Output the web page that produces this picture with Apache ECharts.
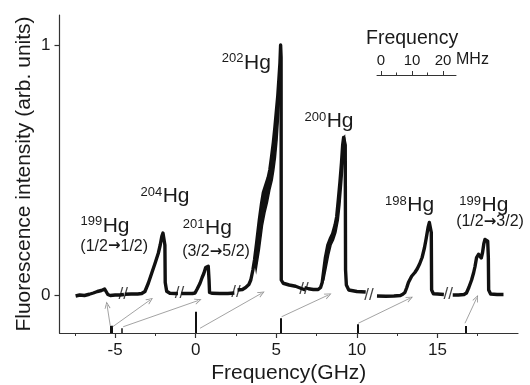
<!DOCTYPE html>
<html><head><meta charset="utf-8">
<script src="https://cdn.jsdelivr.net/npm/echarts@6/dist/echarts.min.js"></script>
<style>html,body{margin:0;padding:0;background:#fff}#c{width:530px;height:385px}</style>
</head><body><div id="c"></div>
<script>
// ---- data (frequency in GHz, fluorescence intensity in arb. units) ----
const seg199a = [[-7.45,-0.004],[-7.2,0.0],[-6.9,-0.002],[-6.6,0.003],[-6.35,0.008],[-6.1,0.014],[-5.85,0.018],[-5.65,0.024],[-5.55,0.02],[-5.45,0.002],[-5.3,-0.002],[-5.0,0.0],[-4.7,0.0],[-4.45,0.002]];
const seg204 = [[-4.4,0.003],[-4.0,0.004],[-3.6,0.004],[-3.35,0.006],[-3.15,0.014],[-2.94,0.047],[-2.73,0.087],[-2.52,0.127],[-2.32,0.167],[-2.2,0.2],[-2.1,0.235],[-2.03,0.248],[-1.96,0.24],[-1.91,0.2],[-1.89,0.05],[-1.8,0.015],[-1.6,0.007],[-1.3,0.006],[-1.1,0.006]];
const seg201 = [[-0.9,0.006],[-0.5,0.006],[-0.2,0.006],[-0.04,0.008],[0.1,0.025],[0.27,0.047],[0.4,0.07],[0.51,0.087],[0.62,0.11],[0.68,0.117],[0.78,0.115],[0.83,0.06],[0.86,0.01],[1.0,0.007],[1.5,0.006],[2.0,0.006],[2.4,0.008]];
const seg202 = [[2.6,0.02],[2.9,0.022],[3.1,0.03],[3.3,0.042],[3.42,0.06],[3.55,0.1],[3.65,0.14],[3.78,0.207],[3.95,0.3],[4.09,0.367],[4.2,0.41],[4.35,0.44],[4.5,0.47],[4.6,0.5],[4.71,0.553],[4.82,0.61],[4.92,0.673],[5.0,0.73],[5.09,0.793],[5.17,0.87],[5.23,0.93],[5.27,1.0],[5.3,0.95],[5.31,0.06],[5.43,0.047],[5.8,0.04],[6.2,0.035],[6.6,0.025],[6.8,0.02]];
const band202Lower = [[3.65,0.14],[3.75,0.1],[3.95,0.18],[4.15,0.28],[4.3,0.33],[4.45,0.37],[4.6,0.42],[4.75,0.46],[4.85,0.5],[4.95,0.55],[5.05,0.62],[5.13,0.7],[5.2,0.78],[5.25,0.86],[5.29,0.93],[5.27,1.0]];
const seg200 = [[6.75,0.03],[7.0,0.025],[7.3,0.022],[7.6,0.022],[7.75,0.03],[7.85,0.05],[7.95,0.1],[8.05,0.15],[8.2,0.2],[8.35,0.225],[8.5,0.245],[8.65,0.28],[8.75,0.313],[8.85,0.38],[8.95,0.45],[9.05,0.53],[9.12,0.6],[9.18,0.63],[9.24,0.635],[9.28,0.6],[9.3,0.1],[9.35,0.04],[9.5,0.02],[10.0,0.014],[10.55,0.012]];
const band200Lower = [[7.85,0.05],[7.95,0.06],[8.1,0.11],[8.25,0.16],[8.4,0.2],[8.55,0.22],[8.7,0.25],[8.85,0.3],[8.95,0.36],[9.05,0.44],[9.12,0.5],[9.2,0.56],[9.26,0.6],[9.24,0.635]];
const seg198 = [[11.25,-0.004],[11.8,-0.005],[12.3,-0.004],[12.7,-0.002],[12.85,0.003],[12.98,0.01],[13.1,0.03],[13.2,0.05],[13.4,0.075],[13.6,0.09],[13.75,0.105],[13.9,0.125],[14.05,0.15],[14.2,0.19],[14.3,0.225],[14.42,0.27],[14.5,0.29],[14.57,0.285],[14.62,0.25],[14.64,0.02],[14.75,0.005],[15.0,0.004],[15.4,0.002]];
const seg199b = [[15.95,0.0],[16.3,0.0],[16.65,0.002],[16.8,0.008],[16.95,0.03],[17.12,0.06],[17.25,0.09],[17.33,0.113],[17.43,0.15],[17.55,0.163],[17.65,0.165],[17.72,0.148],[17.8,0.17],[17.88,0.205],[17.95,0.222],[18.05,0.225],[18.12,0.215],[18.16,0.15],[18.18,0.02],[18.3,0.004],[18.7,0.002],[19.1,0.002]];
// axis breaks "//"
const breakPts = [[-4.5,0.002],[-1.0,0.006],[2.5,0.012],[6.72,0.024],[10.75,0.0],[15.67,0.002]];
// reference sticks at the bottom: [frequency, top of stick]
const sticks = [[-5.24,-0.123],[-4.59,-0.133],[0.0,-0.067],[5.27,-0.093],[10.03,-0.117],[16.77,-0.124]];
// arrows: [from, to]
const arrows = [
  [[-5.3,-0.123],[-5.5,-0.04]],
  [[-5.15,-0.127],[-2.83,-0.02]],
  [[-4.5,-0.127],[0.16,-0.022]],
  [[0.27,-0.133],[4.09,0.007]],
  [[5.33,-0.087],[8.23,0.0]],
  [[10.09,-0.113],[13.29,-0.013]],
  [[16.71,-0.113],[17.43,-0.013]]
];
const xMajorTicks = [-5,0,5,10,15];
const xMinorTicks = [-7.5,-2.5,2.5,7.5,12.5,17.5];
const yTicks = [0,1];
const insetMajor = [0,10,20];
const insetMinor = [5,15];
const isotopes = ['199','204','201','202','200','198','199'];
const transitions = ['(1/2→1/2)','(3/2→5/2)','(1/2→3/2)'];

// ---- chart ----
const FONT = '"Liberation Sans", Arial, sans-serif';
const TXT = '#1a1a1a';
const AX = '#333';
const XMIN = -8.45, XMAX = 20, YMIN = -0.152, YMAX = 1.12;
const chart = echarts.init(document.getElementById('c'), null, {renderer:'canvas'});

function lineSeries(d, extra){
  return Object.assign({type:'line', data:d, showSymbol:false, symbol:'none', silent:true, z:3,
    lineStyle:{color:'#111', width:3.4, join:'round'}, xAxisIndex:0, yAxisIndex:0}, extra||{});
}
function bandSeries(upper, lower){
  return {type:'custom', coordinateSystem:'cartesian2d', xAxisIndex:0, yAxisIndex:0, silent:true, z:4,
    data:[upper[0]],
    renderItem:function(params, api){
      const pts = upper.map(p=>api.coord(p)).concat(lower.slice().reverse().map(p=>api.coord(p)));
      return {type:'polygon', shape:{points:pts}, style:{fill:'#111', stroke:'#111', lineWidth:1.5}};
    }};
}
const chevron = 'path://M0,10 L5,0 L10,10 L8.6,10 L5,2.8 L1.4,10 Z';

const isoLayout = [[102.7,225.8],[162.7,196.3],[205,228],[244,62.8],[326.7,121],[407.3,205],[481.5,205]];
const trLayout = [[114.2,246.5],[216,252],[490,222]];
const graphics = [];
isotopes.forEach((m,i)=>{
  const [x,y] = isoLayout[i];
  graphics.push({type:'text', x:x-0.5, y:y-4, style:{text:m, font:'13px '+FONT, fill:TXT, align:'right', verticalAlign:'middle'}});
  graphics.push({type:'text', x:x, y:y, style:{text:'Hg', font:'21px '+FONT, fill:TXT, align:'left', verticalAlign:'middle'}});
});
transitions.forEach((t,i)=>{
  const [x,y] = trLayout[i];
  const parts = t.split('→');
  graphics.push({type:'text', x:x, y:y, style:{text:'{n|'+parts[0]+'}{a|→}{n|'+parts[1]+'}', align:'center', verticalAlign:'middle',
    rich:{n:{fontSize:16, fontFamily:FONT, fill:TXT, color:TXT},
          a:{fontSize:15, fontWeight:'bold', fontFamily:'"DejaVu Sans", sans-serif', fill:TXT, color:TXT}}}});
});
graphics.push({type:'text', x:366, y:38.5, style:{text:'Frequency', font:'19.5px '+FONT, fill:TXT, align:'left', verticalAlign:'middle'}});
graphics.push({type:'text', x:456, y:59.7, style:{text:'MHz', font:'16px '+FONT, fill:TXT, align:'left', verticalAlign:'middle'}});

const option = {
  animation:false,
  backgroundColor:'#fff',
  grid:[
    {left:59.5, right:12, top:15, bottom:52, containLabel:false, outerBoundsMode:'none'},
    {left:377, right:74, top:70, height:5, containLabel:false, outerBoundsMode:'none'}
  ],
  xAxis:[
    {type:'value', gridIndex:0, min:XMIN, max:XMAX, position:'bottom',
      name:'Frequency(GHz)', nameLocation:'middle', nameGap:30, nameMoveOverlap:false,
      nameTextStyle:{fontFamily:FONT, fontSize:21, color:TXT},
      axisLine:{onZero:false, lineStyle:{color:AX, width:1.2}},
      axisTick:{show:true, inside:false, length:5, customValues:xMajorTicks, lineStyle:{color:AX, width:1.2}},
      axisLabel:{show:true, customValues:xMajorTicks, margin:9, fontFamily:FONT, fontSize:17, color:TXT},
      splitLine:{show:false}, minorTick:{show:false}},
    {type:'value', gridIndex:0, min:XMIN, max:XMAX, position:'bottom',
      axisLine:{show:false, onZero:false},
      axisTick:{show:true, inside:false, length:3, customValues:xMinorTicks, lineStyle:{color:AX, width:1}},
      axisLabel:{show:false}, splitLine:{show:false}},
    {type:'value', gridIndex:1, min:-1.3, max:24.2, position:'bottom',
      axisLine:{onZero:false, lineStyle:{color:AX, width:1}},
      axisTick:{show:true, inside:true, length:4, customValues:insetMajor, lineStyle:{color:AX, width:1}},
      axisLabel:{show:true, inside:true, customValues:insetMajor, margin:7, fontFamily:FONT, fontSize:15, color:TXT},
      splitLine:{show:false}},
    {type:'value', gridIndex:1, min:-1.3, max:24.2, position:'bottom',
      axisLine:{show:false, onZero:false},
      axisTick:{show:true, inside:true, length:2.5, customValues:insetMinor, lineStyle:{color:AX, width:1}},
      axisLabel:{show:false}, splitLine:{show:false}}
  ],
  yAxis:[
    {type:'value', gridIndex:0, min:YMIN, max:YMAX,
      name:'Fluorescence intensity (arb. units)', nameLocation:'middle', nameGap:25, nameRotate:90, nameMoveOverlap:false,
      nameTextStyle:{fontFamily:FONT, fontSize:21, color:TXT},
      axisLine:{show:true, onZero:false, lineStyle:{color:AX, width:1.2}},
      axisTick:{show:true, inside:false, length:5, customValues:yTicks, lineStyle:{color:AX, width:1.2}},
      axisLabel:{show:true, customValues:yTicks, margin:9, fontFamily:FONT, fontSize:17, color:TXT},
      splitLine:{show:false}},
    {type:'value', gridIndex:1, min:0, max:1, show:false}
  ],
  graphic:graphics,
  series:[
    lineSeries(seg199a, {markLine:{silent:true, symbol:['none','none'], label:{show:false}, animation:false,
      lineStyle:{color:'#111', width:2, type:'solid'},
      data:sticks.map((s,i)=>[{coord:[s[0],YMIN], lineStyle:{width:(i===0?3:(i===1?1.5:2))}},{coord:[s[0],s[1]]}])}}),
    lineSeries(seg204),
    lineSeries(seg201),
    lineSeries(seg202, {markLine:{silent:true, symbol:['none',chevron], symbolSize:[6,7], label:{show:false}, animation:false,
      lineStyle:{color:'#8c8c8c', width:0.8, type:'solid'},
      data:arrows.map(a=>[{coord:a[0]},{coord:a[1]}])}}),
    bandSeries(seg202.slice(6,22), band202Lower),
    lineSeries(seg200),
    bandSeries(seg200.slice(5,20), band200Lower),
    lineSeries(seg198),
    lineSeries(seg199b),
    {type:'scatter', xAxisIndex:0, yAxisIndex:0, data:breakPts, symbolSize:1, silent:true, z:6,
      itemStyle:{color:'rgba(0,0,0,0)'},
      label:{show:true, position:'inside', formatter:'//', fontFamily:FONT, fontSize:17, color:'#111', fontWeight:'normal'}}
  ]
};
chart.setOption(option);
</script>
</body></html>
